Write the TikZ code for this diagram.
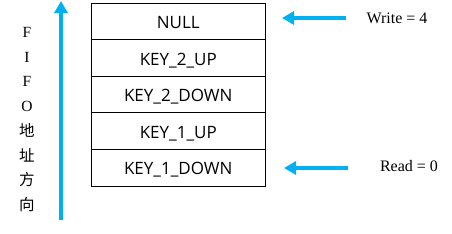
\documentclass[tikz,border=0pt]{standalone}
\usepackage{fontspec}
\setmainfont{Liberation Serif}
\newfontfamily\cjk{Noto Sans CJK SC}
\newfontfamily\boxfont{Open Sans}
\usetikzlibrary{arrows.meta}
\definecolor{arrowblue}{HTML}{00B0F0}
\tikzset{
  cell/.style={draw=black, line width=0.9pt, minimum width=174pt, minimum height=36.6pt,
    inner sep=0pt, text height=14.5pt, text depth=0pt, font=\boxfont\fontsize{17}{19}\selectfont},
  bluearrow/.style={draw=arrowblue, line width=4pt, -{Triangle[length=12pt,width=13pt]}},
  lbl/.style={font=\fontsize{16}{18}\selectfont, inner sep=0pt}
}
\begin{document}
\begin{tikzpicture}[x=1pt,y=-1pt]
\useasboundingbox (0,0) rectangle (452,233);
\node[cell] (r1) at (178.25,21.3) {NULL};
\node[cell] (r2) at (178.25,57.9) {KEY\_2\_UP};
\node[cell] (r3) at (178.25,94.5) {KEY\_2\_DOWN};
\node[cell] (r4) at (178.25,131.1) {KEY\_1\_UP};
\node[cell] (r5) at (178.25,167.7) {KEY\_1\_DOWN};
% vertical arrow
\coordinate (vbot) at (61,220);
\coordinate (vtop) at (61,1);
\draw[bluearrow] (vbot) -- (vtop);
\node[align=center, inner sep=0pt, font=\fontsize{15.5}{24.7}\selectfont] (vtext) at (27,119.5)
  {F\\I\\F\\O\\{\cjk 地}\\{\cjk 址}\\{\cjk 方}\\{\cjk 向}};
% write pointer
\node[lbl] (wlabel) at (397,18) {Write = 4};
\coordinate (wstart) at (346,18);
\coordinate (wend) at (282,18);
\draw[bluearrow] (wstart) -- (wend);
% read pointer
\node[lbl] (rlabel) at (409,166) {Read = 0};
\coordinate (rstart) at (348,168);
\coordinate (rend) at (284,168);
\draw[bluearrow] (rstart) -- (rend);
\end{tikzpicture}
\end{document}
